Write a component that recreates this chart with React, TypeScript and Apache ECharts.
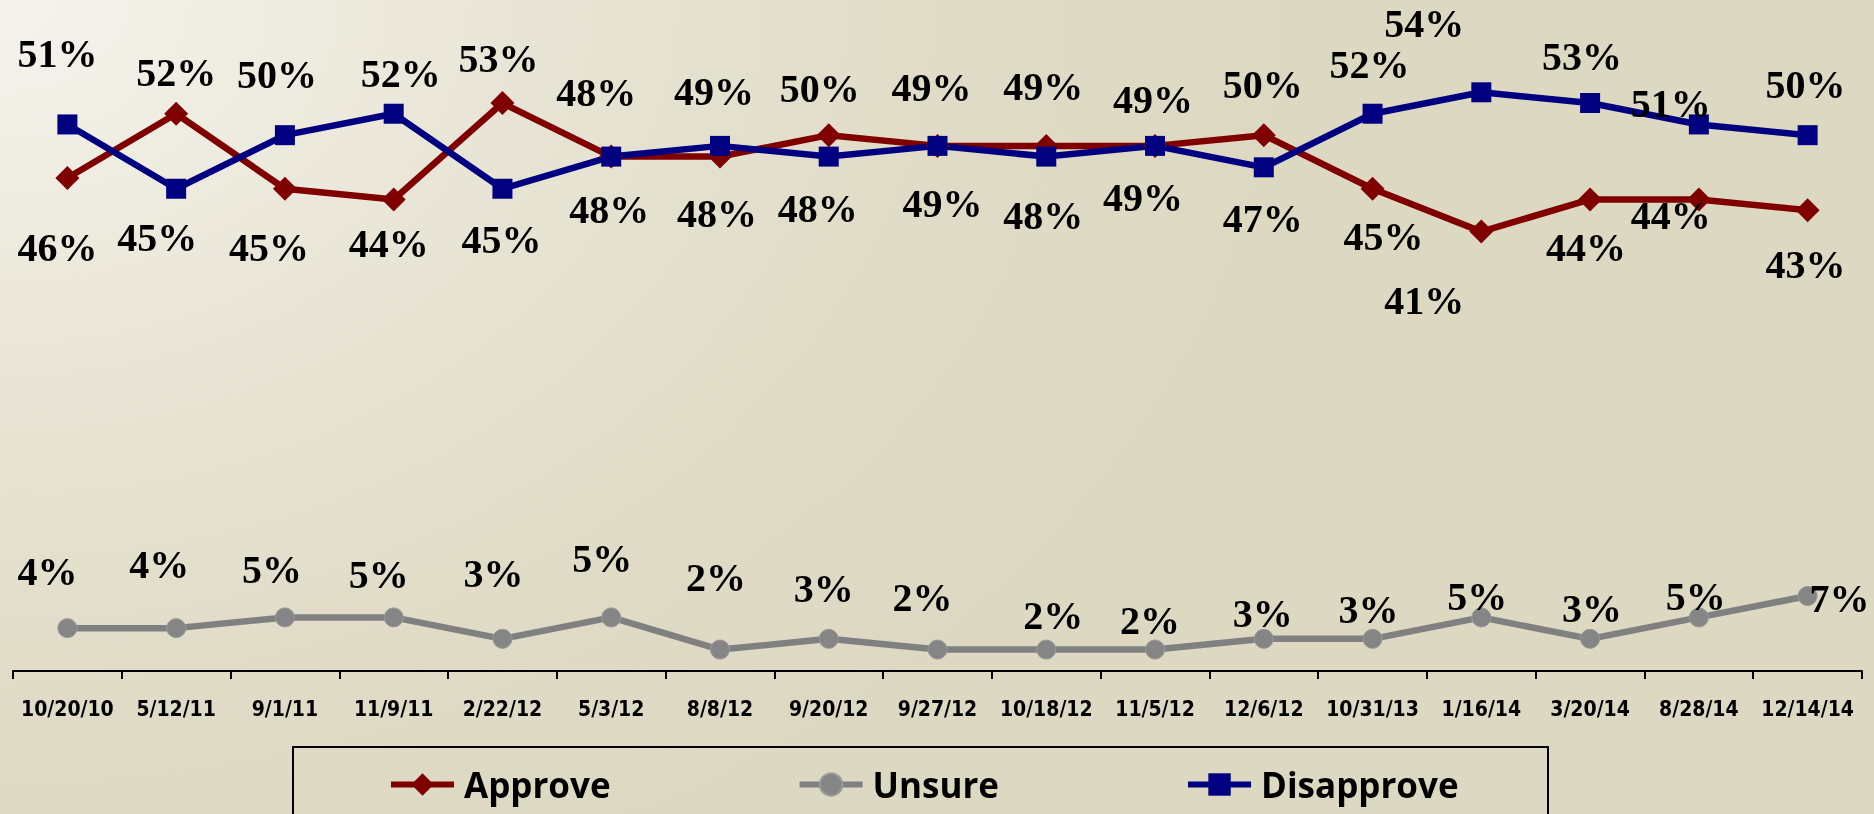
import React, { useEffect, useRef } from "react";
import * as echarts from "echarts";

const categories = [
  "10/20/10", "5/12/11", "9/1/11", "11/9/11", "2/22/12", "5/3/12", "8/8/12", "9/20/12",
  "9/27/12", "10/18/12", "11/5/12", "12/6/12", "10/31/13", "1/16/14", "3/20/14", "8/28/14", "12/14/14",
];
const approve = [46, 52, 45, 44, 53, 48, 48, 50, 49, 49, 49, 50, 45, 41, 44, 44, 43];
const unsure = [4, 4, 5, 5, 3, 5, 2, 3, 2, 2, 2, 3, 3, 5, 3, 5, 7];
const disapprove = [51, 45, 50, 52, 45, 48, 49, 48, 49, 48, 49, 47, 52, 54, 53, 51, 50];

// label offsets (dx, dy) from each point, as placed in the original
const approveLabelOffsets = [
  [-10, 69], [0, -41], [-16, 59], [-5, 44], [-4, -45], [-15, -64], [-3, 57], [-9, -47], [-6, -58],
  [-3, -59], [-2, -46], [-1, -51], [11, 48], [-57, 69], [-4, 48], [-28, 16], [-2, 54],
];
const unsureLabelOffsets = [
  [-20, -57], [-17, -64], [-13, -48], [-15, -43], [-9, -65], [-9, -59], [-4, -72], [-5, -50], [-15, -52],
  [7, -34], [-5, -29], [-1, -25], [-4, -29], [-4, -21], [2, -30], [-3, -21], [32, 3],
];
const disapproveLabelOffsets = [
  [-10, -71], [-19, 49], [-8, -61], [7, -40], [-1, 51], [-2, 53], [-6, -54], [-11, 52], [5, 58],
  [-3, 59], [-12, 52], [-1, 51], [-3, -49], [-57, -69], [-8, -47], [-28, -21], [-2, -51],
];

const labelFont = {
  fontFamily: "'Liberation Serif', 'Times New Roman', serif",
  fontWeight: "bold" as const,
  fontSize: 40,
  color: "#000000",
};

function withOffsets(values: number[], offsets: number[][]) {
  return values.map((v, i) => ({ value: v, label: { offset: offsets[i] } }));
}

export default function App() {
  const ref = useRef<HTMLDivElement>(null);
  useEffect(() => {
    if (!ref.current) return;
    const chart = echarts.init(ref.current, undefined, { renderer: "svg" });
    const baseLabel = {
      show: true,
      position: "inside",
      formatter: "{c}%",
      ...labelFont,
    };
    chart.setOption({
      animation: false,
      backgroundColor: "transparent",
      grid: { left: 13, right: 12, top: 28, bottom: 143, containLabel: false },
      xAxis: {
        type: "category",
        data: categories,
        boundaryGap: true,
        axisLine: { show: true, lineStyle: { color: "#000000", width: 2 } },
        axisTick: { show: true, length: 8, lineStyle: { color: "#000000", width: 2 } },
        axisLabel: {
          margin: 27,
          fontFamily: "'DejaVu Sans Condensed', 'Liberation Sans Narrow', 'DejaVu Sans', sans-serif",
          fontWeight: "bold",
          fontSize: 21,
          color: "#000000",
          interval: 0,
        },
      },
      yAxis: { type: "value", min: 0, max: 60, show: false, splitLine: { show: false } },
      legend: {
        data: ["Approve", "Unsure", "Disapprove"],
        left: 383,
        top: 762,
        itemWidth: 63,
        itemHeight: 28,
        itemGap: 186,
        lineStyle: { width: 6 },
        textStyle: {
          fontFamily: "'Open Sans', 'DejaVu Sans', sans-serif",
          fontWeight: "bold",
          fontSize: 35,
          color: "#000000",
          padding: [0, 0, 0, 5],
        },
      },
      graphic: [
        {
          type: "rect",
          shape: { x: 293, y: 747, width: 1255, height: 90 },
          style: { fill: "none", stroke: "#000000", lineWidth: 2 },
          silent: true,
        },
      ],
      series: [
        {
          name: "Approve",
          type: "line",
          data: withOffsets(approve, approveLabelOffsets),
          symbol: "diamond",
          symbolSize: 24,
          lineStyle: { color: "#800000", width: 6.5 },
          itemStyle: { color: "#800000" },
          label: baseLabel,
        },
        {
          name: "Unsure",
          type: "line",
          data: withOffsets(unsure, unsureLabelOffsets),
          symbol: "circle",
          symbolSize: 19,
          lineStyle: { color: "#808080", width: 6.5 },
          itemStyle: { color: "#858585", borderColor: "#9a9a9a", borderWidth: 1 },
          label: baseLabel,
        },
        {
          name: "Disapprove",
          type: "line",
          data: withOffsets(disapprove, disapproveLabelOffsets),
          symbol: "rect",
          symbolSize: 20,
          lineStyle: { color: "#000080", width: 6.5 },
          itemStyle: { color: "#000080" },
          label: baseLabel,
        },
      ],
    });
    return () => chart.dispose();
  }, []);
  return (
    <div
      style={{
        position: "fixed",
        left: 0,
        top: 0,
        width: 1874,
        height: 814,
        background:
          "radial-gradient(ellipse 1300px 950px at 0px 0px, #f5f3ed 0%, #e9e5d6 40%, #dfdbc6 75%, #ddd8c2 100%)",
      }}
    >
      <div ref={ref} style={{ width: 1874, height: 814 }} />
    </div>
  );
}
